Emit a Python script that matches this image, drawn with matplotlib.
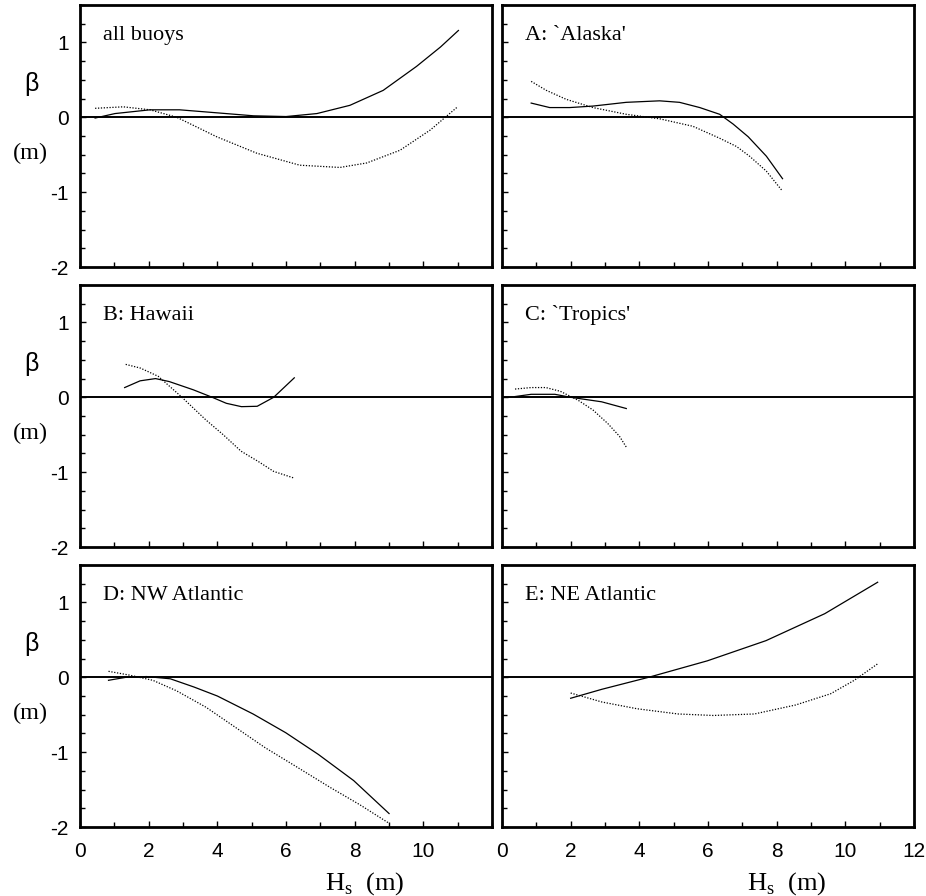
import matplotlib

matplotlib.use('Agg')
import matplotlib.pyplot as plt
from matplotlib.ticker import MultipleLocator

plt.rcParams['mathtext.fontset'] = 'custom'
plt.rcParams['mathtext.rm'] = 'Liberation Serif'

SERIF = 'Liberation Serif'
SANS = 'Liberation Sans'

# all buoys
all_hs_solid = [0.44, 1.02, 2.04, 2.9, 3.98, 5.05, 6.0, 6.9, 7.86, 8.83, 9.8, 10.5, 11.02]
all_b_solid = [-0.01, 0.05, 0.1, 0.1, 0.06, 0.02, 0.01, 0.05, 0.16, 0.36, 0.68, 0.94, 1.16]
all_hs_dot = [0.44, 1.26, 2.04, 2.82, 3.98, 5.15, 6.4, 7.57, 8.35, 9.32, 10.2, 10.97]
all_b_dot = [0.12, 0.14, 0.1, 0.0, -0.26, -0.48, -0.64, -0.67, -0.61, -0.44, -0.17, 0.13]

# A: Alaska
a_hs_solid = [0.85, 1.39, 1.97, 2.65, 3.62, 4.59, 5.17, 5.76, 6.34, 6.73, 7.17, 7.7, 8.17]
a_b_solid = [0.19, 0.13, 0.13, 0.15, 0.2, 0.22, 0.2, 0.13, 0.04, -0.09, -0.26, -0.52, -0.82]
a_hs_dot = [0.85, 1.29, 1.87, 2.65, 3.62, 4.59, 5.56, 6.34, 6.83, 7.21, 7.7, 8.14]
a_b_dot = [0.48, 0.36, 0.24, 0.13, 0.04, -0.02, -0.12, -0.28, -0.39, -0.52, -0.72, -0.97]

# B: Hawaii
b_hs_solid = [1.3, 1.75, 2.2, 2.6, 3.3, 3.85, 4.26, 4.7, 5.16, 5.64, 6.24]
b_b_solid = [0.13, 0.22, 0.25, 0.21, 0.1, 0.0, -0.08, -0.125, -0.12, 0.0, 0.26]
b_hs_dot = [1.33, 1.76, 2.28, 2.97, 3.66, 4.17, 4.69, 5.2, 5.64, 6.24]
b_b_dot = [0.44, 0.39, 0.28, 0.0, -0.3, -0.5, -0.72, -0.86, -0.99, -1.08]

# C: Tropics
c_hs_solid = [0.38, 0.85, 1.54, 2.0, 2.9, 3.62]
c_b_solid = [0.01, 0.04, 0.04, 0.0, -0.06, -0.15]
c_hs_dot = [0.38, 0.85, 1.28, 1.7, 2.22, 2.65, 3.08, 3.42, 3.64]
c_b_dot = [0.11, 0.13, 0.13, 0.08, -0.04, -0.17, -0.35, -0.52, -0.68]

# D: NW Atlantic
d_hs_solid = [0.83, 1.34, 1.94, 2.63, 3.32, 4.0, 5.04, 5.99, 6.94, 7.97, 9.0]
d_b_solid = [-0.04, 0.0, 0.01, -0.02, -0.13, -0.25, -0.49, -0.74, -1.03, -1.38, -1.82]
d_hs_dot = [0.83, 1.43, 2.12, 2.81, 3.67, 4.53, 5.39, 6.25, 7.28, 8.14, 9.0]
d_b_dot = [0.08, 0.03, -0.04, -0.18, -0.4, -0.67, -0.94, -1.18, -1.47, -1.7, -1.95]

# E: NE Atlantic
e_hs_solid = [2.0, 2.91, 4.27, 5.98, 7.69, 9.4, 10.94]
e_b_solid = [-0.28, -0.16, 0.0, 0.22, 0.49, 0.85, 1.27]
e_hs_dot = [2.0, 2.91, 3.93, 5.13, 6.15, 7.35, 8.55, 9.57, 10.26, 10.94]
e_b_dot = [-0.21, -0.33, -0.42, -0.49, -0.51, -0.49, -0.37, -0.22, -0.04, 0.18]

panel_titles = ['all buoys', "A: `Alaska'", 'B: Hawaii', "C: `Tropics'", 'D: NW Atlantic', 'E: NE Atlantic']
panels = [
    (all_hs_solid, all_b_solid, all_hs_dot, all_b_dot),
    (a_hs_solid, a_b_solid, a_hs_dot, a_b_dot),
    (b_hs_solid, b_b_solid, b_hs_dot, b_b_dot),
    (c_hs_solid, c_b_solid, c_hs_dot, c_b_dot),
    (d_hs_solid, d_b_solid, d_hs_dot, d_b_dot),
    (e_hs_solid, e_b_solid, e_hs_dot, e_b_dot),
]

y_ticks = [-2, -1, 0, 1]
x_ticks_left = [0, 2, 4, 6, 8, 10]
x_ticks_right = [0, 2, 4, 6, 8, 10, 12]

fig = plt.figure(figsize=(9.26, 8.96), dpi=100)

col_left = [0.0864, 0.5421]
col_width = 0.445
row_bottom = [0.702, 0.3895, 0.077]
row_height = 0.2924

for i, (title, (xs, ys, xd, yd)) in enumerate(zip(panel_titles, panels)):
    row, col = divmod(i, 2)
    ax = fig.add_axes([col_left[col], row_bottom[row], col_width, row_height])
    ax.set_xlim(0, 12)
    ax.set_ylim(-2, 1.5)

    ax.axhline(0, color='black', lw=1.4, zorder=1)
    ax.plot(xs, ys, color='black', lw=0.9, zorder=2)
    ax.plot(xd, yd, color='black', lw=0.9, linestyle=(0, (1, 1.3)), zorder=2)

    for s in ax.spines.values():
        s.set_linewidth(2.0)

    ax.xaxis.set_major_locator(MultipleLocator(2))
    ax.xaxis.set_minor_locator(MultipleLocator(1))
    ax.yaxis.set_major_locator(MultipleLocator(1))
    ax.yaxis.set_minor_locator(MultipleLocator(0.25))
    ax.tick_params(which='both', direction='in', top=False, right=False, width=1.0)
    ax.tick_params(which='major', length=4)
    ax.tick_params(which='minor', length=3.5)
    ax.tick_params(axis='x', which='major', pad=11)
    ax.tick_params(axis='y', which='major', pad=8)

    if col == 0:
        ax.set_yticks(y_ticks)
        ax.set_yticklabels([str(v) for v in y_ticks], fontfamily=SANS, fontsize=15)
        ax.text(-0.117, 0.70, 'β', transform=ax.transAxes, ha='center', va='center',
                fontfamily=SANS, fontsize=18)
        ax.text(-0.121, 0.435, '(m)', transform=ax.transAxes, ha='center', va='center',
                fontfamily=SERIF, fontsize=17.5)
    else:
        ax.set_yticks(y_ticks)
        ax.set_yticklabels([])

    if row == 2:
        xt = x_ticks_left if col == 0 else x_ticks_right
        ax.set_xticks(xt)
        ax.set_xticklabels([str(v) for v in xt], fontfamily=SANS, fontsize=15)
        ax.text(0.69, -0.24, r'H$_{\rm s}$  (m)', transform=ax.transAxes, ha='center',
                va='baseline', fontfamily=SERIF, fontsize=19)
    else:
        ax.set_xticklabels([])

    ax.text(0.055, 0.868, title, transform=ax.transAxes, ha='left', va='baseline',
            fontfamily=SERIF, fontsize=16)

fig.savefig('out.png', dpi=100)
